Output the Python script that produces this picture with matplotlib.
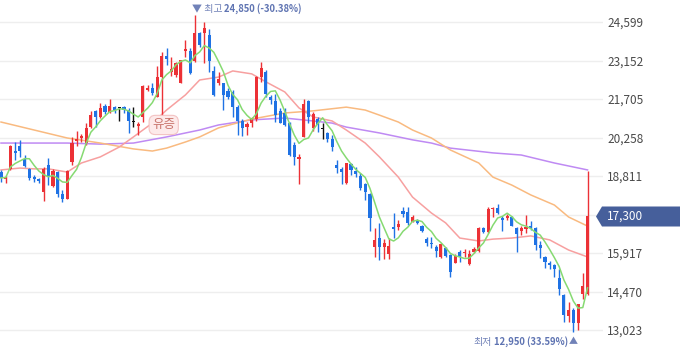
import numpy as np
import pandas as pd
import matplotlib.pyplot as plt
from matplotlib.patches import Polygon

plt.rcParams['font.family'] = ['Noto Sans CJK KR', 'DejaVu Sans']

# 일봉 (시가, 고가, 저가, 종가)
opens = [18960, 18700, 19080, 19750, 19940, 19450, 19080, 18770, 18700, 18210,
         19230, 18440, 18960, 18140, 17950, 19340, 20130, 20240, 20050, 20650,
         21260, 21030, 21440, 21220, 21410, 21370, 21410, 21290, 20840, 20690,
         21030, 22040, 22120, 21780, 22530, 23320, 22720, 22610, 22310, 23510,
         23510, 23130, 24190, 24190, 24110, 22760, 22310, 22310, 22010, 21970,
         21410, 20880, 20650, 20800, 20950, 22530, 22720, 21780, 21630, 21250,
         21180, 20800, 19980, 19450, 20280, 21630, 20620, 20950, 20580, 20430,
         20200, 19230, 19080, 18550, 19260, 19000, 18810, 18510, 18140, 16140,
         16480, 16140, 15880, 16900, 16900, 17500, 17460, 17080, 17160, 16930,
         16440, 16290, 16140, 15770, 16110, 15840, 15540, 15960, 15920, 15510,
         15960, 15990, 16860, 16710, 17570, 17610, 17230, 17230, 17270, 16860,
         16750, 16820, 16930, 16860, 16220, 15770, 15540, 15470, 14980, 14340,
         13550, 13780, 13290, 14380, 14380]
highs = [19040, 18810, 19980, 20090, 20160, 19600, 19110, 18850, 18740, 19150,
         19490, 19080, 19000, 18290, 19040, 20280, 20500, 20390, 20800, 21260,
         21290, 21560, 21520, 21710, 21440, 21410, 21440, 21370, 21410, 20840,
         22230, 22230, 22310, 22950, 23470, 23620, 23280, 23100, 23170, 23920,
         23620, 24850, 24220, 24600, 24340, 22950, 22720, 22310, 22120, 22040,
         21480, 20950, 20840, 21030, 22570, 23100, 22800, 21860, 21890, 21370,
         21370, 20840, 20090, 19640, 21710, 21670, 21220, 21030, 20800, 20470,
         20350, 19410, 19150, 19300, 19300, 19150, 18930, 18550, 18170, 16860,
         17050, 16440, 16480, 17420, 17160, 17650, 17650, 17350, 17200, 16970,
         16520, 16520, 16220, 16290, 16140, 15880, 15880, 16030, 16070, 16030,
         16140, 16900, 16900, 17650, 17650, 17760, 17310, 17380, 17310, 16900,
         16930, 17350, 17120, 16900, 16370, 15810, 15620, 15510, 15320, 14380,
         14080, 13850, 14000, 15170, 19000]
lows = [18590, 18550, 19040, 19410, 19530, 19150, 18660, 18590, 18550, 17870,
        18470, 18400, 18020, 17830, 17950, 19230, 19940, 20090, 19980, 20620,
        20650, 20990, 21140, 21180, 21180, 20880, 21180, 20430, 20650, 20350,
        20840, 22010, 21860, 21780, 21030, 22980, 22570, 22530, 22310, 23280,
        22640, 23100, 23660, 23060, 22720, 21820, 22230, 21290, 21710, 21030,
        20350, 20320, 20350, 20650, 20880, 22350, 21780, 21520, 20840, 20800,
        20690, 19560, 19230, 18510, 20280, 20800, 20500, 20470, 20200, 20090,
        19750, 18930, 18510, 18510, 18850, 18770, 18290, 17910, 16750, 15770,
        15660, 15690, 15690, 16480, 16780, 17270, 16970, 17080, 17010, 16710,
        16180, 16110, 15770, 15730, 15770, 15020, 15540, 15580, 15770, 15470,
        15920, 15960, 16670, 16670, 17270, 17380, 16750, 17160, 16930, 15960,
        16590, 16670, 16780, 16030, 15730, 15350, 15320, 15020, 14340, 13330,
        13330, 12950, 13030, 14190, 14340]
closes = [18740, 18770, 19940, 19680, 19750, 19190, 18740, 18700, 18620, 19080,
          18770, 19000, 18140, 17950, 19000, 20050, 20200, 20320, 20620, 21100,
          21030, 21370, 21220, 21440, 21290, 21370, 21290, 20880, 20840, 20770,
          22190, 22120, 21930, 22530, 23320, 23210, 22830, 23060, 23170, 23590,
          22680, 24190, 23740, 24370, 23130, 21860, 22460, 21860, 21780, 21410,
          20880, 20620, 20770, 20990, 22530, 22870, 21890, 21670, 21100, 20800,
          20730, 19600, 19530, 19530, 21520, 21030, 21140, 20730, 20580, 20200,
          19900, 19110, 18960, 19300, 19040, 18890, 18360, 18210, 17230, 16410,
          16140, 16290, 16180, 16820, 17010, 17380, 17050, 17270, 17050, 16750,
          16290, 16260, 15990, 16260, 15810, 15200, 15810, 15770, 15960, 15880,
          16070, 16860, 16710, 17570, 17610, 17420, 17160, 17310, 16930, 16630,
          16860, 16900, 16860, 16220, 16110, 15580, 15470, 15320, 14570, 13590,
          13780, 13290, 14000, 14680, 17300]

# 이동평균선
ma20_idx = [0, 4, 7, 10, 14, 17, 21, 25, 28, 32, 35, 39, 42, 46, 49, 53, 56,
            60, 63, 66, 70, 73, 77, 80, 84, 87, 91, 94, 97, 101, 104, 108, 112,
            116, 120, 124]
ma20 = [19040, 19110, 19080, 19080, 18960, 19300, 19530, 19900, 20280, 20800,
        21290, 21860, 22420, 22530, 22760, 22650, 22350, 21970, 21370, 21030,
        20880, 20540, 20050, 19530, 18770, 18020, 17420, 17050, 16480, 16370,
        16440, 16480, 16560, 16410, 16030, 15770]
ma60_idx = [0, 7, 14, 21, 28, 32, 35, 39, 42, 46, 53, 60, 66, 73, 77, 80, 84,
            87, 91, 95, 101, 104, 108, 112, 117, 120, 124]
ma60 = [20840, 20540, 20240, 20050, 19830, 19750, 19860, 20090, 20280, 20620,
        20950, 21180, 21260, 21400, 21290, 21100, 20840, 20540, 20240, 19790,
        19300, 18770, 18470, 18100, 17720, 17270, 16930]
ma120_idx = [0, 7, 14, 21, 28, 35, 42, 46, 53, 60, 66, 70, 73, 80, 87, 91, 95,
             104, 110, 117, 124]
ma120 = [20050, 20050, 20050, 20010, 20050, 20280, 20540, 20730, 20920, 20990,
         20880, 20800, 20650, 20430, 20170, 20050, 19860, 19680, 19600, 19300,
         19040]

ticks = [13023, 14470, 15917, 17364, 18811, 20258, 21705, 23152, 24599]

df = pd.DataFrame({'open': opens, 'high': highs, 'low': lows, 'close': closes})
ma5 = df['close'].rolling(5, min_periods=1).mean()

W, H = 680, 358
fig = plt.figure(figsize=(6.8, 3.58), dpi=100)
ax = fig.add_axes([0, 0, 603 / W, 1])

red, blue = '#ec3136', '#1f72e4'
col = np.where(df['close'] > df['open'], red,
               np.where(df['close'] < df['open'], blue, '#111111'))
x = np.arange(len(df))
ax.vlines(x, df['low'], df['high'], colors=col, linewidth=1, zorder=3)
bottom = np.minimum(df['open'], df['close'])
height = np.maximum((df['close'] - df['open']).abs(), 35)
ax.bar(x, height, bottom=bottom, width=0.66, color=col, linewidth=0, zorder=3)

ax.plot(ma120_idx, ma120, color='#bf8af3', lw=1.1, zorder=2)
ax.plot(ma60_idx, ma60, color='#f9ba80', lw=1.1, zorder=2)
ax.plot(ma20_idx, ma20, color='#f7a0a0', lw=1.1, zorder=2)
ax.plot(x, ma5, color='#86da72', lw=1.1, zorder=4)

ax.set_xlim(-0.21, 127.27)
ax.set_ylim(11972, 25426)
ax.set_xticks([])
ax.set_yticks(ticks)
ax.set_yticklabels(['' if t == 17364 else f'{t:,}' for t in ticks])
ax.yaxis.tick_right()
ax.tick_params(axis='y', length=0, pad=3, labelsize=8.5, labelcolor='#4a4a4a')
ax.grid(axis='y', color='#eeeeee', lw=1)
ax.set_axisbelow(True)
for s in ax.spines.values():
    s.set_visible(False)

ax.text(34.4, 20730, '유증', ha='center', va='center', fontsize=9, color='#c9746c',
        zorder=6, bbox=dict(boxstyle='round,pad=0.25,rounding_size=0.5',
                            fc='#fdeaea', ec='#f3c3c3', lw=0.8))

# 현재가 박스
pts = [(596, 216.5), (602, 206.5), (680, 206.5), (680, 226.5), (602, 226.5)]
fig.add_artist(Polygon([(px / W, 1 - py / H) for px, py in pts], closed=True,
                       fc='#465f9b', ec='none', transform=fig.transFigure))
fig.text(607 / W, 1 - 216.5 / H, '17,300', color='white', fontsize=8.5,
         va='center', ha='left')

# 최고 / 최저 표시 (조각을 이어 붙임)
r = fig.canvas.get_renderer()
light, dark = '#7182b8', '#5f74b2'

t1 = fig.text(192 / W, 1 - 9 / H, '▼ 최고', fontsize=7.2, color=light,
              va='center', ha='left')
x1 = t1.get_window_extent(r).x1
fig.text((x1 + 2) / W, 1 - 9 / H, '24,850 (-30.38%)', fontsize=6.8, color=dark,
         va='center', ha='left', weight='bold')

t3 = fig.text(578 / W, 1 - 342 / H, '▲', fontsize=6.5, color=light,
              va='center', ha='right')
x3 = t3.get_window_extent(r).x0
t4 = fig.text((x3 - 1) / W, 1 - 342 / H, '12,950 (33.59%)', fontsize=6.8,
              color=dark, va='center', ha='right', weight='bold')
x4 = t4.get_window_extent(r).x0
fig.text((x4 - 2) / W, 1 - 342 / H, '최저', fontsize=7.2, color=light,
         va='center', ha='right')

fig.savefig('out.png', dpi=100)
